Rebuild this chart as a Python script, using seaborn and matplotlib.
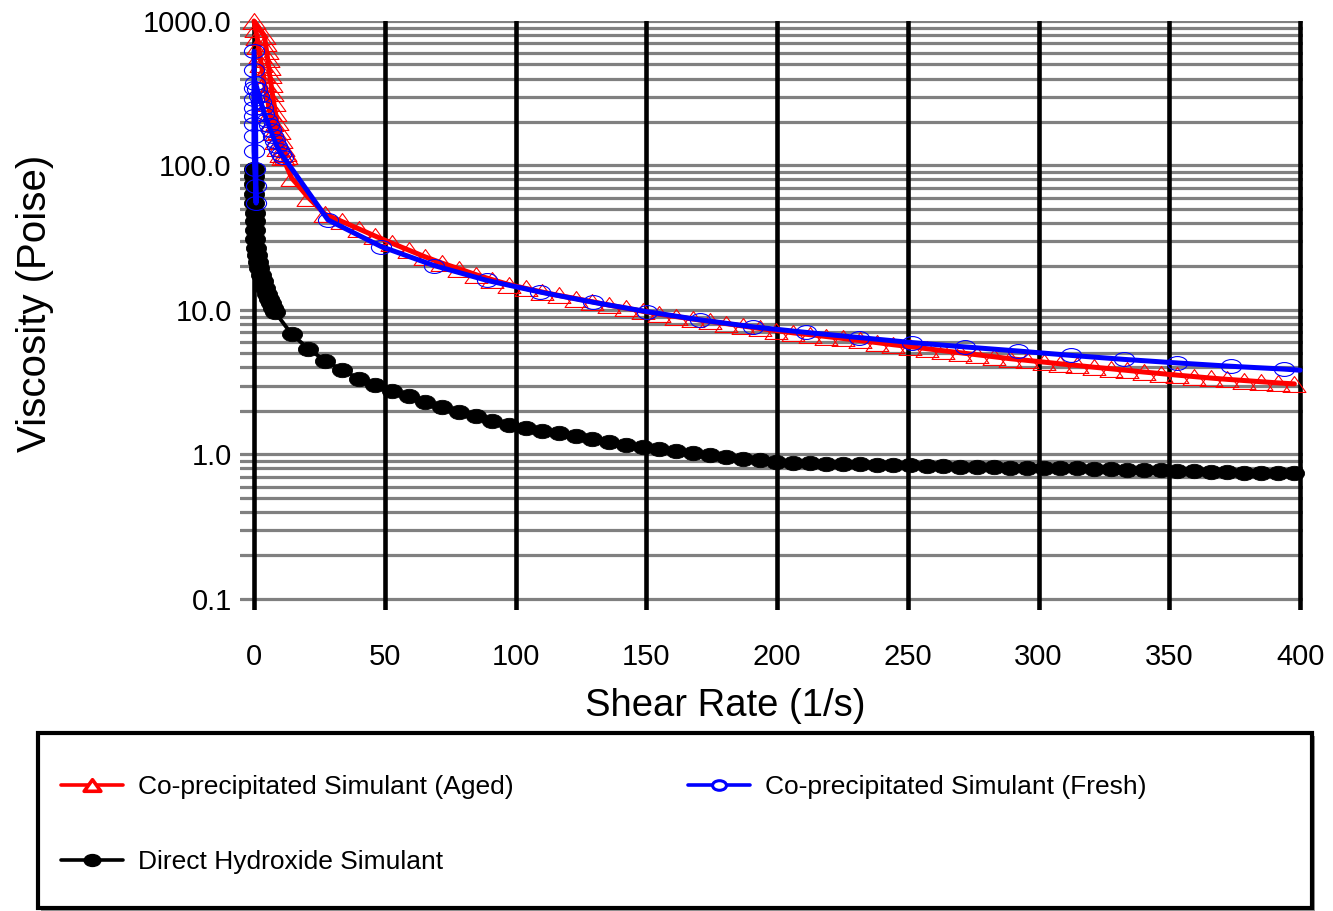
import matplotlib
matplotlib.use("Agg")
import matplotlib.pyplot as plt
from matplotlib.path import Path
from matplotlib.transforms import Affine2D
from matplotlib.lines import Line2D
from matplotlib.patches import Rectangle
from matplotlib.ticker import NullLocator
import pandas as pd
import seaborn as sns

# ---------------------------------------------------------------- data
# Shear rates (1/s) of the regular ramp steps shared by two of the runs
ramp_rates = [14.4, 20.8, 27.2, 33.6, 40.0, 46.3, 52.7, 59.1, 65.5, 71.9,
              78.3, 84.7, 91.1, 97.5, 103.9, 110.3, 116.6, 123.0, 129.4, 135.8,
              142.2, 148.6, 155.0, 161.4, 167.8, 174.2, 180.5, 186.9, 193.3, 199.7,
              206.1, 212.5, 218.9, 225.3, 231.7, 238.1, 244.4, 250.8, 257.2, 263.6,
              270.0, 276.4, 282.8, 289.2, 295.6, 302.0, 308.3, 314.7, 321.1, 327.5,
              333.9, 340.3, 346.7, 353.1, 359.5, 365.9, 372.2, 378.6, 385.0, 391.4,
              397.8]

# Direct hydroxide simulant
hydroxide_low_rate = [0.0, 0.0, 0.0, 0.0, 0.1, 0.2, 0.3, 0.4, 0.5, 0.7,
                      1.0, 1.5, 2.1, 2.8, 3.5, 4.3, 5.1, 5.8, 6.5, 7.2, 8.0]
hydroxide_low_visc = [95, 84, 74, 64, 55, 47, 41, 36, 31, 27,
                      24, 21.5, 19.5, 17.5, 15.8, 14.3, 13.0, 12.0, 11.1, 10.4, 9.7]
hydroxide_ramp_visc = [6.8, 5.4, 4.45, 3.85, 3.35, 3.05, 2.75, 2.52, 2.30, 2.12,
                       1.97, 1.85, 1.71, 1.60, 1.53, 1.46, 1.40, 1.34, 1.28, 1.22,
                       1.17, 1.13, 1.09, 1.06, 1.03, 0.99, 0.96, 0.93, 0.91, 0.885,
                       0.875, 0.87, 0.865, 0.86, 0.855, 0.85, 0.845, 0.84, 0.835, 0.83,
                       0.825, 0.82, 0.815, 0.81, 0.81, 0.805, 0.80, 0.80, 0.795, 0.79,
                       0.785, 0.78, 0.775, 0.77, 0.765, 0.76, 0.755, 0.75, 0.75, 0.748,
                       0.745]

# Co-precipitated simulant, aged
aged_low_rate = [12.4, 11.8, 11.0, 10.2, 9.5, 8.8, 8.2, 7.6, 7.0, 6.5,
                 6.0, 5.6, 5.2, 4.8, 4.4, 4.0,
                 0.0, 0.6, 1.2, 1.7, 2.2, 2.8, 3.4, 4.0, 4.7, 5.4,
                 6.1, 6.9, 7.7, 8.5, 9.3, 10.2, 11.0]
aged_low_visc = [116, 122, 133, 150, 172, 200, 232, 270, 315, 365,
                 420, 480, 550, 620, 700, 790,
                 1000, 880, 770, 670, 580, 500, 430, 370, 318, 272,
                 232, 198, 170, 148, 132, 120, 114]
aged_ramp_visc = [82, 60, 46, 41, 36.5, 32.5, 29.0, 26.0, 23.3, 21.1,
                  19.3, 17.6, 16.2, 15.0, 14.1, 13.3, 12.6, 12.0, 11.4, 10.8,
                  10.3, 9.8, 9.35, 9.0, 8.65, 8.35, 8.05, 7.75, 7.45, 7.2,
                  6.95, 6.75, 6.55, 6.35, 6.15, 5.95, 5.75, 5.58, 5.4, 5.22,
                  5.06, 4.9, 4.75, 4.6, 4.48, 4.36, 4.24, 4.13, 4.02, 3.92,
                  3.82, 3.72, 3.63, 3.54, 3.46, 3.38, 3.31, 3.25, 3.19, 3.13,
                  3.08]

# Co-precipitated simulant, fresh
fresh_rate = [0.0, 0.0, 0.0, 0.0, 0.0, 0.0, 0.0, 0.0, 0.0, 0.3, 0.6, 0.8,
              0.5, 1.2, 1.9, 2.6, 3.3, 4.0, 4.8, 5.6, 6.4, 7.2, 8.0, 8.8,
              9.6, 10.4, 11.2,
              28.3, 48.6, 68.9, 89.2, 109.5, 129.8, 150.1, 170.4, 190.7, 211.0,
              231.3, 251.6, 271.9, 292.2, 312.5, 332.8, 353.1, 373.4, 393.7, 400.0]
fresh_visc = [617, 460, 345, 290, 250, 220, 194, 160, 125, 95, 72, 55,
              375, 340, 305, 275, 250, 228, 208, 190, 175, 160, 147, 136,
              127, 120, 115,
              42, 27.5, 20.3, 16.0, 13.3, 11.3, 9.75, 8.55, 7.65, 7.0,
              6.45, 5.95, 5.55, 5.2, 4.85, 4.55, 4.3, 4.08, 3.9, 3.83]

series_labels = ["Co-precipitated Simulant (Aged)",
                 "Co-precipitated Simulant (Fresh)",
                 "Direct Hydroxide Simulant"]
x_ticks = [0, 50, 100, 150, 200, 250, 300, 350, 400]
y_ticks = [0.1, 1, 10, 100, 1000]
y_tick_labels = ["0.1", "1.0", "10.0", "100.0", "1000.0"]

# ---------------------------------------------------------------- frames
hydroxide = pd.DataFrame({"rate": hydroxide_low_rate + ramp_rates,
                          "visc": hydroxide_low_visc + hydroxide_ramp_visc})
aged = pd.DataFrame({"rate": aged_low_rate + ramp_rates,
                     "visc": aged_low_visc + aged_ramp_visc})
fresh = pd.DataFrame({"rate": fresh_rate, "visc": fresh_visc})

# ---------------------------------------------------------------- style
sns.set_style("white")
plt.rcParams["font.family"] = ["Liberation Sans", "DejaVu Sans"]
plt.rcParams["text.color"] = "black"
plt.rcParams["axes.labelcolor"] = "black"
plt.rcParams["xtick.color"] = "black"
plt.rcParams["ytick.color"] = "black"

# wide (flattened) marker shapes
ellipse = Affine2D().scale(1.45, 1.0).transform_path(Path.unit_circle())
dot = Affine2D().scale(1.4, 1.0).transform_path(Path.unit_circle())
tri = Path([(-0.72, -0.5), (0.72, -0.5), (0.0, 0.5), (-0.72, -0.5)],
           [Path.MOVETO, Path.LINETO, Path.LINETO, Path.CLOSEPOLY])

W, H = 1333, 911
fig = plt.figure(figsize=(W / 100, H / 100), dpi=100)


def fx(px):
    return px / W


def fy(py):
    return 1 - py / H


ax = fig.add_axes([fx(240), fy(610), fx(1303) - fx(240), fy(21) - fy(610)])
ax.set_yscale("log")
ax.set_xlim(-5.35, 401.1)
ax.set_ylim(0.0839, 1000)

# grid: grey horizontal decades/minors, heavy black verticals
for dec in [0.1, 1, 10, 100]:
    for m in range(1, 10):
        ax.axhline(dec * m, color="#808080", lw=2.3, zorder=1)
ax.axhline(1000, color="#808080", lw=2.3, zorder=1)
for xv in x_ticks:
    ax.axvline(xv, color="black", lw=3.3, zorder=2)

sns.lineplot(data=hydroxide, x="rate", y="visc", ax=ax, sort=False,
             estimator=None, errorbar=None, color="black", lw=2.8,
             marker=dot, markersize=14.5, markerfacecolor="black",
             markeredgecolor="black", markeredgewidth=0.6, zorder=4,
             clip_on=False)
sns.lineplot(data=aged, x="rate", y="visc", ax=ax, sort=False,
             estimator=None, errorbar=None, color="#ff0000", lw=3.6,
             marker=tri, markersize=16.5, markerfacecolor="none",
             markeredgecolor="#ff0000", markeredgewidth=0.8, zorder=5,
             clip_on=False)
sns.lineplot(data=fresh, x="rate", y="visc", ax=ax, sort=False,
             estimator=None, errorbar=None, color="#0000ff", lw=3.6,
             marker=ellipse, markersize=14.5, markerfacecolor="none",
             markeredgecolor="#0000ff", markeredgewidth=0.8, zorder=6,
             markevery=list(range(len(fresh_rate) - 1)), clip_on=False)

for s in ax.spines.values():
    s.set_visible(False)
ax.set_xticks(x_ticks)
ax.set_xticklabels([str(v) for v in x_ticks])
ax.set_yticks(y_ticks)
ax.set_yticklabels(y_tick_labels)
ax.yaxis.set_minor_locator(NullLocator())
ax.tick_params(axis="x", length=0, pad=24, labelsize=21, colors="black")
ax.tick_params(axis="y", length=0, pad=6, labelsize=21, colors="black")
ax.set_xlabel("")
ax.set_ylabel("")

fig.text(fx(725), fy(706), "Shear Rate (1/s)", fontsize=27.5,
         ha="center", va="center")
fig.text(fx(35), fy(303), "Viscosity (Poise)", fontsize=29, rotation=90,
         ha="center", va="center")

# legend box with a soft drop shadow
fig.patches.append(Rectangle((fx(41), fy(911)), fx(1315) - fx(41),
                             fy(736) - fy(911), transform=fig.transFigure,
                             facecolor="#9a9a9a", edgecolor="none", zorder=0))
fig.patches.append(Rectangle((fx(38), fy(908)), fx(1312) - fx(38),
                             fy(733) - fy(908), transform=fig.transFigure,
                             facecolor="white", edgecolor="black", lw=3,
                             zorder=1))

h_aged = Line2D([], [], color="#ff0000", lw=2.6, marker=tri, markersize=12,
                markerfacecolor="white", markeredgecolor="#ff0000",
                markeredgewidth=2.6)
h_fresh = Line2D([], [], color="#0000ff", lw=2.6, marker=ellipse, markersize=10,
                 markerfacecolor="white", markeredgecolor="#0000ff",
                 markeredgewidth=2.2)
h_hyd = Line2D([], [], color="black", lw=2.6, marker=dot, markersize=12,
               markerfacecolor="black", markeredgecolor="black")

leg_kw = dict(frameon=False, fontsize=19, borderpad=0, handlelength=2.35,
              handletextpad=0.57, labelspacing=1.92, loc="upper left")
fig.legend([h_aged, h_hyd], [series_labels[0], series_labels[2]],
           bbox_to_anchor=(fx(48), fy(762)), **leg_kw)
fig.legend([h_fresh], [series_labels[1]],
           bbox_to_anchor=(fx(675), fy(762)), **leg_kw)

fig.savefig("out.png", dpi=100)
